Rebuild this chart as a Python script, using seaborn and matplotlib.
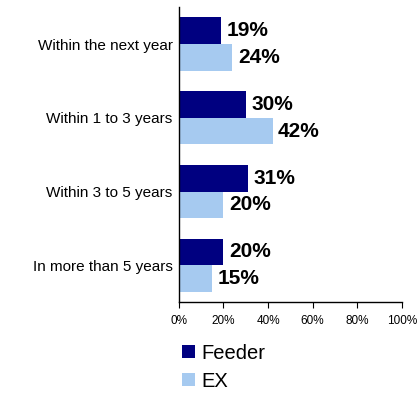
import matplotlib
matplotlib.use("Agg")
import matplotlib.pyplot as plt
import seaborn as sns
import pandas as pd
from matplotlib.patches import Patch

categories = ["Within the next year", "Within 1 to 3 years",
              "Within 3 to 5 years", "In more than 5 years"]
feeder = [19, 30, 31, 20]
ex = [24, 42, 20, 15]
series = ["Feeder", "EX"]
colors = ["#000080", "#A6CAF0"]
xticks = [0, 20, 40, 60, 80, 100]
xticklabels = ["0%", "20%", "40%", "60%", "80%", "100%"]

sns.set_style("white")
plt.rcParams["font.family"] = ["Liberation Sans", "DejaVu Sans"]
plt.rcParams["text.color"] = "black"
plt.rcParams["xtick.color"] = "black"
plt.rcParams["ytick.color"] = "black"
plt.rcParams["xtick.labelcolor"] = "black"
plt.rcParams["ytick.labelcolor"] = "black"

df = pd.DataFrame({
    "category": categories * 2,
    "series": [series[0]] * len(categories) + [series[1]] * len(categories),
    "value": feeder + ex,
})

fig = plt.figure(figsize=(4.19, 3.96), dpi=100)
ax = fig.add_axes([0.427, 0.237, 0.532, 0.745])

sns.barplot(data=df, x="value", y="category", hue="series", order=categories,
            hue_order=series, palette=colors, orient="h", width=0.72, gap=0,
            saturation=1, edgecolor="none", linewidth=0, legend=False, ax=ax)

for container in ax.containers:
    ax.bar_label(container, labels=[f"{v:.0f}%" for v in container.datavalues],
                 padding=4, fontsize=15, fontweight="bold", color="black")

ax.set_xlim(0, 100)
ax.set_ylim(len(categories) - 0.5, -0.5)
ax.set_xticks(xticks)
ax.set_xticklabels(xticklabels, fontsize=8.5)
ax.set_xlabel("")
ax.set_ylabel("")
ax.tick_params(axis="y", labelsize=11, length=0, pad=4.5, labelcolor="black")
ax.tick_params(axis="x", direction="out", length=4, width=0.8, color="black",
               bottom=True, pad=5, labelcolor="black")
for side in ["top", "right"]:
    ax.spines[side].set_visible(False)
for side in ["left", "bottom"]:
    ax.spines[side].set_color("black")
    ax.spines[side].set_linewidth(1.0)

handles = [Patch(facecolor=c, edgecolor="none", label=s) for s, c in zip(series, colors)]
leg = fig.legend(handles=handles, loc="upper left", bbox_to_anchor=(0.435, 0.132),
                 frameon=False, fontsize=14.5, handlelength=0.65, handleheight=0.65,
                 handletextpad=0.3, labelspacing=0.45, borderaxespad=0, borderpad=0)
for t in leg.get_texts():
    t.set_color("black")

fig.savefig("out.png", dpi=100)
